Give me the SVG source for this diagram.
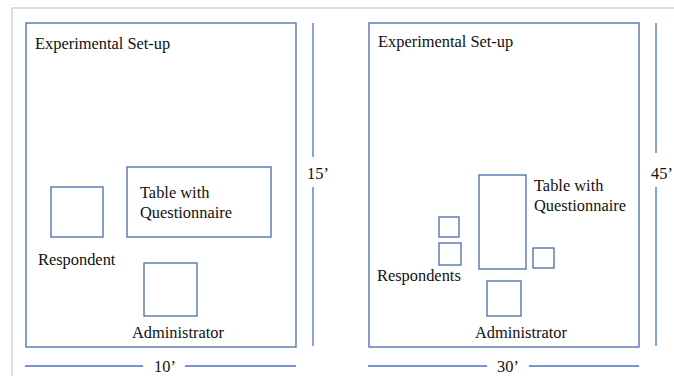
<svg xmlns="http://www.w3.org/2000/svg" width="674" height="376" viewBox="0 0 674 376">
<style>
.box{fill:#ffffff;stroke:#4a6aaa;stroke-width:1.3}
.dim{stroke:#4a72c0;stroke-width:1.3;fill:none}
.t{font-family:"Liberation Serif","Times New Roman",serif;font-size:16.4px;fill:#111}
</style>
<rect x="0" y="0" width="674" height="376" fill="#ffffff"/>
<path d="M12,376 V8 H674" fill="none" stroke="#d4d4d4" stroke-width="1.5"/>
<g id="left-room">
<rect class="box" x="26" y="23" width="270" height="324"/>
<text class="t" x="35" y="49">Experimental Set-up</text>
</g>
<g id="left-table">
<rect class="box" x="127" y="167" width="144" height="70"/>
<text class="t" x="140" y="198">Table with</text>
<text class="t" x="140" y="218">Questionnaire</text>
</g>
<g id="left-respondent">
<rect class="box" x="51" y="187" width="52" height="50"/>
<text class="t" x="38" y="265">Respondent</text>
</g>
<g id="left-administrator">
<rect class="box" x="144" y="263" width="53" height="53"/>
<text class="t" x="132" y="338">Administrator</text>
</g>
<g id="left-dims">
<line class="dim" x1="313" y1="23" x2="313" y2="157"/>
<line class="dim" x1="313" y1="187" x2="313" y2="346"/>
<text class="t" x="307" y="179">15’</text>
<line class="dim" x1="25" y1="366" x2="143" y2="366"/>
<line class="dim" x1="185" y1="366" x2="296" y2="366"/>
<text class="t" x="154" y="372">10’</text>
</g>
<g id="right-room">
<rect class="box" x="369" y="23" width="270" height="324"/>
<text class="t" x="378" y="47">Experimental Set-up</text>
</g>
<g id="right-table">
<rect class="box" x="479" y="175" width="47" height="94"/>
<text class="t" x="534" y="191">Table with</text>
<text class="t" x="534" y="211">Questionnaire</text>
</g>
<g id="right-respondents">
<rect class="box" x="439" y="217" width="20" height="20"/>
<rect class="box" x="439" y="243" width="22" height="22"/>
<rect class="box" x="533" y="248" width="21" height="20"/>
<text class="t" x="377" y="281">Respondents</text>
</g>
<g id="right-administrator">
<rect class="box" x="487" y="281" width="34" height="35"/>
<text class="t" x="475" y="338">Administrator</text>
</g>
<g id="right-dims">
<line class="dim" x1="656" y1="23" x2="656" y2="153"/>
<line class="dim" x1="656" y1="187" x2="656" y2="346"/>
<text class="t" x="651" y="179">45’</text>
<line class="dim" x1="368" y1="366" x2="487" y2="366"/>
<line class="dim" x1="529" y1="366" x2="639" y2="366"/>
<text class="t" x="497" y="372">30’</text>
</g>
</svg>
